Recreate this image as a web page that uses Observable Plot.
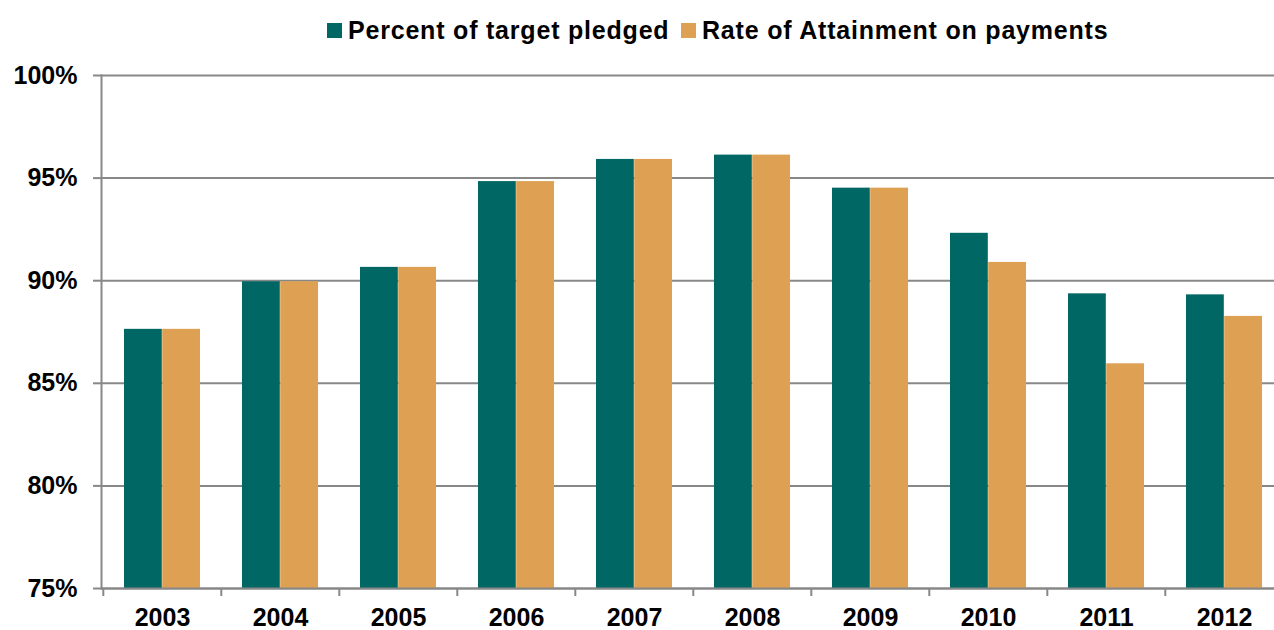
<!DOCTYPE html>
<html><head><meta charset="utf-8">
<script src="https://cdn.jsdelivr.net/npm/d3@7"></script>
<script src="https://cdn.jsdelivr.net/npm/@observablehq/plot@0.6"></script>
<style>
body{margin:0;background:#fff;font-family:"Liberation Sans",Arial,sans-serif;}
#legend{position:relative;height:55px;width:1274px;}
.item{position:absolute;top:0;height:60px;display:flex;align-items:center;font-weight:bold;font-size:25px;color:#000;white-space:nowrap;letter-spacing:0.8px;}
.sw{width:15px;height:15px;margin-right:6px;}
</style></head><body>
<div id="legend"></div><div id="chart"></div>
<script>
const years = ["2003","2004","2005","2006","2007","2008","2009","2010","2011","2012"];
const pledged =    [87.63, 89.95, 90.65, 94.83, 95.91, 96.12, 94.51, 92.31, 89.36, 89.31];
const attainment = [87.63, 89.95, 90.65, 94.83, 95.91, 96.12, 94.51, 90.89, 85.95, 88.26];
const seriesNames = ["Percent of target pledged", "Rate of Attainment on payments"];
const seriesColors = ["#006764", "#DEA052"];
const yTicks = [75, 80, 85, 90, 95, 100];

const rows = years.map((year, i) => ({year, pledged: pledged[i], attainment: attainment[i]}));

// legend
const legend = document.getElementById("legend");
const legendLeft = [327, 681];
seriesNames.forEach((name, i) => {
  const item = document.createElement("div");
  item.className = "item";
  item.style.left = legendLeft[i] + "px";
  item.innerHTML = `<div class="sw" style="background:${seriesColors[i]}"></div><span>${name}</span>`;
  legend.appendChild(item);
});

const W = 1274, H = 575;
const xRange = [101, 1285];
const bw = (xRange[1] - xRange[0]) / years.length;
const barW = bw * 0.3227;
const gray = "#888888";
const font = {fontSize: 25, fontWeight: "bold", fontFamily: "Liberation Sans, Arial, sans-serif"};

const chart = Plot.plot({
  width: W, height: H,
  marginLeft: 101, marginRight: 0, marginTop: 20, marginBottom: 42,
  style: {fontFamily: "Liberation Sans, Arial, sans-serif", fontSize: "25px", fontWeight: "bold", color: "#000", background: "#fff"},
  x: {type: "band", domain: years, range: xRange, padding: 0, label: null},
  y: {domain: [75, 100], clamp: true, label: null},
  marks: [
    Plot.gridY(yTicks, {stroke: gray, strokeOpacity: 1, strokeWidth: 2}),
    Plot.barY(rows, {x: "year", y: "pledged", fill: seriesColors[0], insetLeft: bw/2 - barW, insetRight: bw/2}),
    Plot.barY(rows, {x: "year", y: "attainment", fill: seriesColors[1], insetLeft: bw/2, insetRight: bw/2 - barW}),
    Plot.frame({anchor: "left", stroke: gray, strokeWidth: 2}),
    Plot.ruleY([75], {stroke: gray, strokeWidth: 2}),
    Plot.axisY({ticks: yTicks, tickSize: 8, tickPadding: 16, stroke: gray, strokeWidth: 2, fill: "#000", tickFormat: d => d + "%", label: null, ...font}),
    Plot.axisX({tickSize: 0, tickPadding: 20, fill: "#000", label: null, ...font}),
    Plot.axisX({tickSize: 8, fill: "none", stroke: gray, strokeWidth: 2, dx: -bw/2, label: null})
  ]
});
document.getElementById("chart").appendChild(chart);
</script>
</body></html>
